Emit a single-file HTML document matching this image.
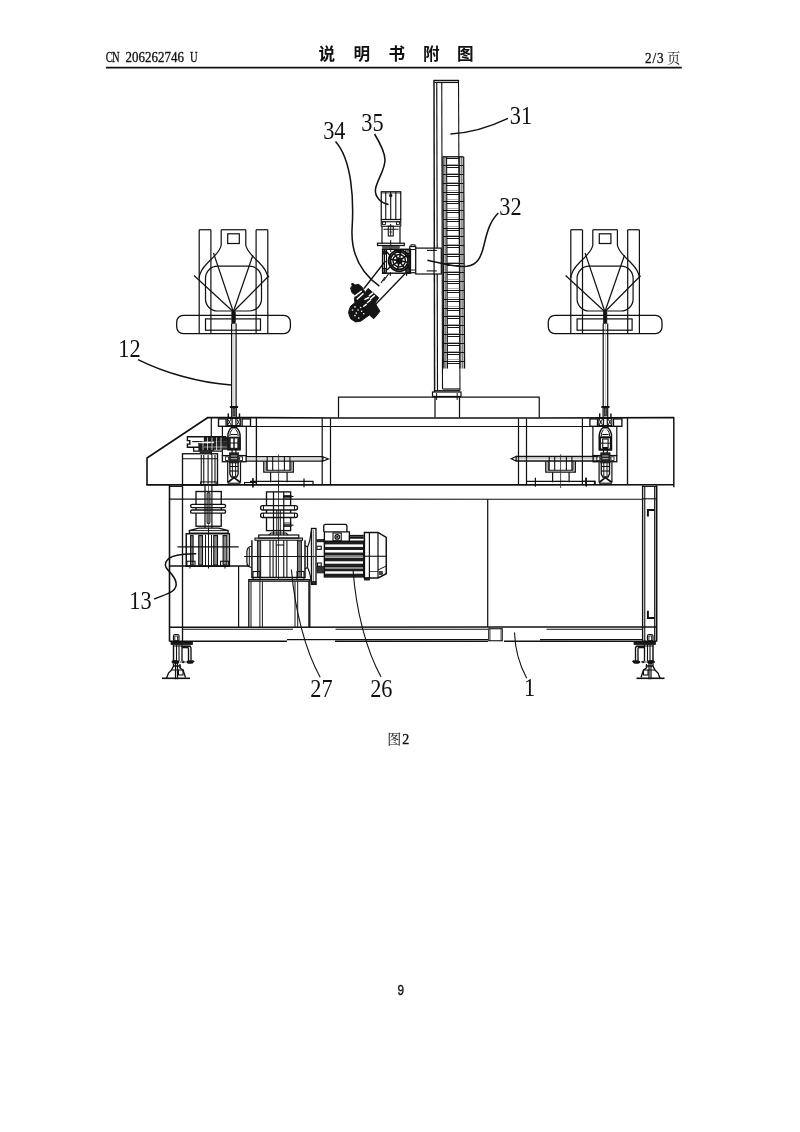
<!DOCTYPE html>
<html><head><meta charset="utf-8"><title>CN 206262746 U</title>
<style>
html,body{margin:0;padding:0;background:#fff;}
body{width:800px;height:1132px;overflow:hidden;font-family:"Liberation Serif",serif;}
svg{display:block;will-change:transform;}
</style></head><body>
<svg width="800" height="1132" viewBox="0 0 800 1132" fill="none" stroke-linecap="butt" stroke-linejoin="miter">
<text transform="translate(109.25 62) scale(0.8 1.16)" font-family="Liberation Serif" font-size="13.2" text-anchor="middle" fill="#111" stroke="#111" stroke-width="0.3">C</text>
<text transform="translate(115.75 62) scale(0.8 1.16)" font-family="Liberation Serif" font-size="13.2" text-anchor="middle" fill="#111" stroke="#111" stroke-width="0.3">N</text>
<text transform="translate(128.75 62) scale(0.98 1.16)" font-family="Liberation Serif" font-size="13.2" text-anchor="middle" fill="#111" stroke="#111" stroke-width="0.3">2</text>
<text transform="translate(135.25 62) scale(0.98 1.16)" font-family="Liberation Serif" font-size="13.2" text-anchor="middle" fill="#111" stroke="#111" stroke-width="0.3">0</text>
<text transform="translate(141.75 62) scale(0.98 1.16)" font-family="Liberation Serif" font-size="13.2" text-anchor="middle" fill="#111" stroke="#111" stroke-width="0.3">6</text>
<text transform="translate(148.25 62) scale(0.98 1.16)" font-family="Liberation Serif" font-size="13.2" text-anchor="middle" fill="#111" stroke="#111" stroke-width="0.3">2</text>
<text transform="translate(154.75 62) scale(0.98 1.16)" font-family="Liberation Serif" font-size="13.2" text-anchor="middle" fill="#111" stroke="#111" stroke-width="0.3">6</text>
<text transform="translate(161.25 62) scale(0.98 1.16)" font-family="Liberation Serif" font-size="13.2" text-anchor="middle" fill="#111" stroke="#111" stroke-width="0.3">2</text>
<text transform="translate(167.75 62) scale(0.98 1.16)" font-family="Liberation Serif" font-size="13.2" text-anchor="middle" fill="#111" stroke="#111" stroke-width="0.3">7</text>
<text transform="translate(174.25 62) scale(0.98 1.16)" font-family="Liberation Serif" font-size="13.2" text-anchor="middle" fill="#111" stroke="#111" stroke-width="0.3">4</text>
<text transform="translate(180.75 62) scale(0.98 1.16)" font-family="Liberation Serif" font-size="13.2" text-anchor="middle" fill="#111" stroke="#111" stroke-width="0.3">6</text>
<text transform="translate(193.75 62) scale(0.8 1.16)" font-family="Liberation Serif" font-size="13.2" text-anchor="middle" fill="#111" stroke="#111" stroke-width="0.3">U</text>
<path d="M106.00 67.60L681.80 67.60" stroke="#111" stroke-width="1.83"/>
<text x="318.5" y="59.7" font-family="'Liberation Sans','Noto Sans CJK SC',sans-serif" font-size="16.6" font-weight="bold" fill="#111" stroke="none">说</text>
<text x="353.5" y="59.7" font-family="'Liberation Sans','Noto Sans CJK SC',sans-serif" font-size="16.6" font-weight="bold" fill="#111" stroke="none">明</text>
<text x="388.5" y="59.7" font-family="'Liberation Sans','Noto Sans CJK SC',sans-serif" font-size="16.6" font-weight="bold" fill="#111" stroke="none">书</text>
<text x="422.9" y="59.7" font-family="'Liberation Sans','Noto Sans CJK SC',sans-serif" font-size="16.6" font-weight="bold" fill="#111" stroke="none">附</text>
<text x="457" y="59.7" font-family="'Liberation Sans','Noto Sans CJK SC',sans-serif" font-size="16.6" font-weight="bold" fill="#111" stroke="none">图</text>
<text transform="translate(648.2 62.7) scale(1.0 1.12)" font-family="Liberation Serif" font-size="13.2" text-anchor="middle" fill="#111" stroke="#111" stroke-width="0.3">2</text>
<text transform="translate(654.2 62.7) scale(1.0 1.12)" font-family="Liberation Serif" font-size="13.2" text-anchor="middle" fill="#111" stroke="#111" stroke-width="0.3">/</text>
<text transform="translate(660.2 62.7) scale(1.0 1.12)" font-family="Liberation Serif" font-size="13.2" text-anchor="middle" fill="#111" stroke="#111" stroke-width="0.3">3</text>
<text x="667" y="62.5" font-family="'Liberation Serif','Noto Serif CJK SC',serif" font-size="13.4" fill="#111" stroke="none">页</text>
<text x="387.2" y="744.1" font-family="'Liberation Serif','Noto Serif CJK SC',serif" font-size="14" fill="#111" stroke="none">图</text>
<text x="402.3" y="744.1" font-family="Liberation Serif" font-size="14" fill="#111" stroke="#111" stroke-width="0.3">2</text>
<text transform="translate(400.75 994.6) scale(0.87 1.06)" font-family="Liberation Sans" font-size="13.5" text-anchor="middle" fill="#111" stroke="#111" stroke-width="0.35">9</text>
<text transform="translate(520.9 124.1) scale(0.97 1.08)" font-family="Liberation Serif" font-size="23" text-anchor="middle" fill="#111">31</text>
<text transform="translate(372.5 131) scale(0.97 1.08)" font-family="Liberation Serif" font-size="23" text-anchor="middle" fill="#111">35</text>
<text transform="translate(334.3 139.4) scale(0.97 1.08)" font-family="Liberation Serif" font-size="23" text-anchor="middle" fill="#111">34</text>
<text transform="translate(510.5 215) scale(0.97 1.08)" font-family="Liberation Serif" font-size="23" text-anchor="middle" fill="#111">32</text>
<text transform="translate(129.5 356.6) scale(0.97 1.08)" font-family="Liberation Serif" font-size="23" text-anchor="middle" fill="#111">12</text>
<text transform="translate(140.4 608.75) scale(0.97 1.08)" font-family="Liberation Serif" font-size="23" text-anchor="middle" fill="#111">13</text>
<text transform="translate(321.4 697.4) scale(0.97 1.08)" font-family="Liberation Serif" font-size="23" text-anchor="middle" fill="#111">27</text>
<text transform="translate(381.3 697.4) scale(0.97 1.08)" font-family="Liberation Serif" font-size="23" text-anchor="middle" fill="#111">26</text>
<text transform="translate(529.5 696.25) scale(0.97 1.08)" font-family="Liberation Serif" font-size="23" text-anchor="middle" fill="#111">1</text>
<path d="M199.20 229.75L199.20 333.40" stroke="#111" stroke-width="1.22"/>
<path d="M210.90 229.75L210.90 333.40" stroke="#111" stroke-width="1.22"/>
<path d="M199.20 229.75L210.90 229.75" stroke="#111" stroke-width="1.22"/>
<path d="M221.20 229.75 V245 C 220.70 251, 213.50 257, 207.50 263 C 202.50 268, 199.50 272, 199.20 278" stroke="#111" stroke-width="1.22" fill="none" />
<path d="M267.80 229.75L267.80 333.40" stroke="#111" stroke-width="1.22"/>
<path d="M256.10 229.75L256.10 333.40" stroke="#111" stroke-width="1.22"/>
<path d="M267.80 229.75L256.10 229.75" stroke="#111" stroke-width="1.22"/>
<path d="M245.80 229.75 V245 C 246.30 251, 253.50 257, 259.50 263 C 264.50 268, 267.50 272, 267.80 278" stroke="#111" stroke-width="1.22" fill="none" />
<path d="M221.20 229.75L245.80 229.75" stroke="#111" stroke-width="1.22"/>
<rect x="227.70" y="233.80" width="11.60" height="9.70" rx="0" stroke="#111" stroke-width="1.22" fill="none"/>
<rect x="205.50" y="266.20" width="56.00" height="44.80" rx="12" stroke="#111" stroke-width="1.22" fill="none"/>
<path d="M233.30 311.80L213.50 253.00" stroke="#111" stroke-width="1.22"/>
<path d="M233.30 311.80L252.90 255.20" stroke="#111" stroke-width="1.22"/>
<path d="M233.30 311.80L194.00 275.50" stroke="#111" stroke-width="1.22"/>
<path d="M233.30 311.80L269.00 275.80" stroke="#111" stroke-width="1.22"/>
<rect x="176.70" y="315.30" width="113.70" height="18.30" rx="6.5" stroke="#111" stroke-width="1.28" fill="none"/>
<rect x="205.50" y="318.90" width="55.00" height="11.30" rx="0" stroke="#111" stroke-width="1.22" fill="none"/>
<rect x="231.80" y="311.80" width="3.50" height="11.70" rx="0" stroke="#111" stroke-width="0.61" fill="#111"/>
<path d="M231.60 323.50L231.60 406.00" stroke="#111" stroke-width="1.22"/>
<path d="M236.10 323.50L236.10 406.00" stroke="#111" stroke-width="1.22"/>
<path d="M233.90 323.50L233.90 406.00" stroke="#999" stroke-width="0.61"/>
<path d="M570.80 229.75L570.80 333.40" stroke="#111" stroke-width="1.22"/>
<path d="M582.50 229.75L582.50 333.40" stroke="#111" stroke-width="1.22"/>
<path d="M570.80 229.75L582.50 229.75" stroke="#111" stroke-width="1.22"/>
<path d="M592.80 229.75 V245 C 592.30 251, 585.10 257, 579.10 263 C 574.10 268, 571.10 272, 570.80 278" stroke="#111" stroke-width="1.22" fill="none" />
<path d="M639.40 229.75L639.40 333.40" stroke="#111" stroke-width="1.22"/>
<path d="M627.70 229.75L627.70 333.40" stroke="#111" stroke-width="1.22"/>
<path d="M639.40 229.75L627.70 229.75" stroke="#111" stroke-width="1.22"/>
<path d="M617.40 229.75 V245 C 617.90 251, 625.10 257, 631.10 263 C 636.10 268, 639.10 272, 639.40 278" stroke="#111" stroke-width="1.22" fill="none" />
<path d="M592.80 229.75L617.40 229.75" stroke="#111" stroke-width="1.22"/>
<rect x="599.30" y="233.80" width="11.60" height="9.70" rx="0" stroke="#111" stroke-width="1.22" fill="none"/>
<rect x="577.10" y="266.20" width="56.00" height="44.80" rx="12" stroke="#111" stroke-width="1.22" fill="none"/>
<path d="M604.90 311.80L585.10 253.00" stroke="#111" stroke-width="1.22"/>
<path d="M604.90 311.80L624.50 255.20" stroke="#111" stroke-width="1.22"/>
<path d="M604.90 311.80L565.60 275.50" stroke="#111" stroke-width="1.22"/>
<path d="M604.90 311.80L640.60 275.80" stroke="#111" stroke-width="1.22"/>
<rect x="548.30" y="315.30" width="113.70" height="18.30" rx="6.5" stroke="#111" stroke-width="1.28" fill="none"/>
<rect x="577.10" y="318.90" width="55.00" height="11.30" rx="0" stroke="#111" stroke-width="1.22" fill="none"/>
<rect x="603.40" y="311.80" width="3.50" height="11.70" rx="0" stroke="#111" stroke-width="0.61" fill="#111"/>
<path d="M603.20 323.50L603.20 406.00" stroke="#111" stroke-width="1.22"/>
<path d="M607.70 323.50L607.70 406.00" stroke="#111" stroke-width="1.22"/>
<path d="M605.50 323.50L605.50 406.00" stroke="#999" stroke-width="0.61"/>
<path d="M434.00 80.50L434.60 392.00" stroke="#111" stroke-width="1.46"/>
<path d="M436.75 82.50L437.50 390.50" stroke="#111" stroke-width="1.16"/>
<path d="M441.75 82.50L442.50 389.00" stroke="#111" stroke-width="1.1"/>
<path d="M458.50 80.50L460.00 390.50" stroke="#111" stroke-width="1.1"/>
<path d="M433.40 80.50L459.10 80.50" stroke="#111" stroke-width="1.46"/>
<path d="M434.50 82.50L458.50 82.50" stroke="#111" stroke-width="1.1"/>
<path d="M442.92 156.8 L446.62 156.8 L447.51 368.5 L443.81 368.5Z" fill="#c8c8c8"/>
<path d="M459.22 156.8 L463.62 156.8 L464.51 368.5 L460.11 368.5Z" fill="#c8c8c8"/>
<path d="M442.90 156.80L443.79 368.50" stroke="#111" stroke-width="1.22"/>
<path d="M444.90 156.80L445.79 368.50" stroke="#555" stroke-width="0.73"/>
<path d="M446.60 156.80L447.49 368.50" stroke="#111" stroke-width="1.04"/>
<path d="M459.20 156.80L460.09 368.50" stroke="#111" stroke-width="1.1"/>
<path d="M461.60 156.80L462.49 368.50" stroke="#555" stroke-width="0.73"/>
<path d="M463.70 156.80L464.59 368.50" stroke="#111" stroke-width="1.22"/>
<path d="M442.60 156.80L463.40 156.80" stroke="#111" stroke-width="1.34"/>
<path d="M446.52 158.50L459.22 158.50" stroke="#111" stroke-width="0.98"/>
<path d="M446.52 164.50L459.22 164.50" stroke="#666" stroke-width="0.55"/>
<path d="M442.96 165.50L463.66 165.50" stroke="#111" stroke-width="0.98"/>
<path d="M446.56 167.50L459.26 167.50" stroke="#111" stroke-width="0.98"/>
<path d="M446.56 173.50L459.26 173.50" stroke="#666" stroke-width="0.55"/>
<path d="M443.00 174.50L463.70 174.50" stroke="#111" stroke-width="0.98"/>
<path d="M446.60 176.50L459.30 176.50" stroke="#111" stroke-width="0.98"/>
<path d="M446.60 182.50L459.30 182.50" stroke="#666" stroke-width="0.55"/>
<path d="M443.03 183.50L463.73 183.50" stroke="#111" stroke-width="0.98"/>
<path d="M446.63 185.50L459.33 185.50" stroke="#111" stroke-width="0.98"/>
<path d="M446.63 190.50L459.33 190.50" stroke="#666" stroke-width="0.55"/>
<path d="M443.07 192.50L463.77 192.50" stroke="#111" stroke-width="0.98"/>
<path d="M446.67 194.50L459.37 194.50" stroke="#111" stroke-width="0.98"/>
<path d="M446.67 199.50L459.37 199.50" stroke="#666" stroke-width="0.55"/>
<path d="M443.11 201.50L463.81 201.50" stroke="#111" stroke-width="0.98"/>
<path d="M446.71 203.50L459.41 203.50" stroke="#111" stroke-width="0.98"/>
<path d="M446.71 208.50L459.41 208.50" stroke="#666" stroke-width="0.55"/>
<path d="M443.15 210.50L463.85 210.50" stroke="#111" stroke-width="0.98"/>
<path d="M446.75 212.50L459.45 212.50" stroke="#111" stroke-width="0.98"/>
<path d="M446.75 217.50L459.45 217.50" stroke="#666" stroke-width="0.55"/>
<path d="M443.18 219.50L463.88 219.50" stroke="#111" stroke-width="0.98"/>
<path d="M446.78 221.50L459.48 221.50" stroke="#111" stroke-width="0.98"/>
<path d="M446.78 226.50L459.48 226.50" stroke="#666" stroke-width="0.55"/>
<path d="M443.22 228.50L463.92 228.50" stroke="#111" stroke-width="0.98"/>
<path d="M446.82 230.50L459.52 230.50" stroke="#111" stroke-width="0.98"/>
<path d="M446.82 235.50L459.52 235.50" stroke="#666" stroke-width="0.55"/>
<path d="M443.26 236.50L463.96 236.50" stroke="#111" stroke-width="0.98"/>
<path d="M446.86 238.50L459.56 238.50" stroke="#111" stroke-width="0.98"/>
<path d="M446.86 244.50L459.56 244.50" stroke="#666" stroke-width="0.55"/>
<path d="M443.30 245.50L464.00 245.50" stroke="#111" stroke-width="0.98"/>
<path d="M446.90 247.50L459.60 247.50" stroke="#111" stroke-width="0.98"/>
<path d="M446.90 253.50L459.60 253.50" stroke="#666" stroke-width="0.55"/>
<path d="M443.33 254.50L464.03 254.50" stroke="#111" stroke-width="0.98"/>
<path d="M446.93 256.50L459.63 256.50" stroke="#111" stroke-width="0.98"/>
<path d="M446.93 262.50L459.63 262.50" stroke="#666" stroke-width="0.55"/>
<path d="M443.37 263.50L464.07 263.50" stroke="#111" stroke-width="0.98"/>
<path d="M446.97 265.50L459.67 265.50" stroke="#111" stroke-width="0.98"/>
<path d="M446.97 271.50L459.67 271.50" stroke="#666" stroke-width="0.55"/>
<path d="M443.41 272.50L464.11 272.50" stroke="#111" stroke-width="0.98"/>
<path d="M447.01 274.50L459.71 274.50" stroke="#111" stroke-width="0.98"/>
<path d="M447.01 279.50L459.71 279.50" stroke="#666" stroke-width="0.55"/>
<path d="M443.45 281.50L464.15 281.50" stroke="#111" stroke-width="0.98"/>
<path d="M447.05 283.50L459.75 283.50" stroke="#111" stroke-width="0.98"/>
<path d="M447.05 288.50L459.75 288.50" stroke="#666" stroke-width="0.55"/>
<path d="M443.48 290.50L464.18 290.50" stroke="#111" stroke-width="0.98"/>
<path d="M447.08 292.50L459.78 292.50" stroke="#111" stroke-width="0.98"/>
<path d="M447.08 297.50L459.78 297.50" stroke="#666" stroke-width="0.55"/>
<path d="M443.52 299.50L464.22 299.50" stroke="#111" stroke-width="0.98"/>
<path d="M447.12 301.50L459.82 301.50" stroke="#111" stroke-width="0.98"/>
<path d="M447.12 306.50L459.82 306.50" stroke="#666" stroke-width="0.55"/>
<path d="M443.56 308.50L464.26 308.50" stroke="#111" stroke-width="0.98"/>
<path d="M447.16 310.50L459.86 310.50" stroke="#111" stroke-width="0.98"/>
<path d="M447.16 315.50L459.86 315.50" stroke="#666" stroke-width="0.55"/>
<path d="M443.60 316.50L464.30 316.50" stroke="#111" stroke-width="0.98"/>
<path d="M447.20 318.50L459.90 318.50" stroke="#111" stroke-width="0.98"/>
<path d="M447.20 324.50L459.90 324.50" stroke="#666" stroke-width="0.55"/>
<path d="M443.63 325.50L464.33 325.50" stroke="#111" stroke-width="0.98"/>
<path d="M447.23 327.50L459.93 327.50" stroke="#111" stroke-width="0.98"/>
<path d="M447.23 333.50L459.93 333.50" stroke="#666" stroke-width="0.55"/>
<path d="M443.67 334.50L464.37 334.50" stroke="#111" stroke-width="0.98"/>
<path d="M447.27 336.50L459.97 336.50" stroke="#111" stroke-width="0.98"/>
<path d="M447.27 342.50L459.97 342.50" stroke="#666" stroke-width="0.55"/>
<path d="M443.71 343.50L464.41 343.50" stroke="#111" stroke-width="0.98"/>
<path d="M447.31 345.50L460.01 345.50" stroke="#111" stroke-width="0.98"/>
<path d="M447.31 351.50L460.01 351.50" stroke="#666" stroke-width="0.55"/>
<path d="M443.74 352.50L464.44 352.50" stroke="#111" stroke-width="0.98"/>
<path d="M447.34 354.50L460.04 354.50" stroke="#111" stroke-width="0.98"/>
<path d="M447.34 359.50L460.04 359.50" stroke="#666" stroke-width="0.55"/>
<path d="M443.78 361.50L464.48 361.50" stroke="#111" stroke-width="0.98"/>
<path d="M447.38 363.50L460.08 363.50" stroke="#111" stroke-width="0.98"/>
<path d="M442.70 389.00L460.00 389.00" stroke="#111" stroke-width="1.22"/>
<path d="M434.60 390.70L460.00 390.70" stroke="#111" stroke-width="1.22"/>
<rect x="432.50" y="392.00" width="28.50" height="4.50" rx="0" stroke="#111" stroke-width="1.22" fill="none"/>
<path d="M435.00 396.50L435.00 417.50" stroke="#111" stroke-width="1.22"/>
<path d="M459.50 396.50L459.50 417.50" stroke="#111" stroke-width="1.22"/>
<path d="M436.60 393.00L436.60 400.00" stroke="#111" stroke-width="0.98"/>
<path d="M457.20 393.00L457.20 400.00" stroke="#111" stroke-width="0.98"/>
<path d="M338.5 417.5 V397.2 H539.25 V417.5" stroke="#111" stroke-width="1.22" fill="none" />
<rect x="381.25" y="191.75" width="19.50" height="27.75" rx="0" stroke="#111" stroke-width="1.22" fill="none"/>
<path d="M381.25 193.00L400.75 193.00" stroke="#111" stroke-width="0.73"/>
<path d="M385.75 191.75L385.75 219.50" stroke="#111" stroke-width="1.1"/>
<path d="M390.70 191.75L390.70 219.50" stroke="#111" stroke-width="1.1"/>
<path d="M395.80 191.75L395.80 219.50" stroke="#111" stroke-width="1.1"/>
<circle cx="390.70" cy="195.60" r="1.40" stroke="#111" stroke-width="0.61" fill="#111"/>
<path d="M381.25 221.75L400.75 221.75" stroke="#111" stroke-width="1.1"/>
<path d="M381.25 219.50L381.25 226.25" stroke="#111" stroke-width="1.1"/>
<path d="M400.75 219.50L400.75 226.25" stroke="#111" stroke-width="1.1"/>
<path d="M381.25 226.25L400.75 226.25" stroke="#111" stroke-width="1.1"/>
<rect x="382.50" y="221.75" width="3.00" height="2.75" rx="0" stroke="#111" stroke-width="0.85" fill="none"/>
<rect x="396.50" y="221.75" width="3.00" height="2.75" rx="0" stroke="#111" stroke-width="0.85" fill="none"/>
<path d="M382.00 226.25L382.00 243.50" stroke="#111" stroke-width="1.22"/>
<path d="M400.00 226.25L400.00 243.50" stroke="#111" stroke-width="1.22"/>
<path d="M383.50 229.25L398.50 229.25" stroke="#111" stroke-width="0.98"/>
<rect x="388.30" y="226.25" width="4.95" height="9.75" rx="0" stroke="#111" stroke-width="1.1" fill="none"/>
<path d="M390.70 224.00L390.70 236.00" stroke="#111" stroke-width="0.98"/>
<path d="M389.30 232.00L392.20 232.00" stroke="#111" stroke-width="0.73"/>
<path d="M390.70 240.00L390.70 252.00" stroke="#111" stroke-width="0.98"/>
<rect x="377.50" y="243.20" width="26.80" height="2.30" rx="0" stroke="#111" stroke-width="1.22" fill="none"/>
<rect x="382.50" y="246.20" width="17.00" height="2.10" rx="0" stroke="#111" stroke-width="0.37" fill="#555"/>
<rect x="382.60" y="249.30" width="27.80" height="23.90" rx="0" stroke="#111" stroke-width="1.46" fill="none"/>
<circle cx="399.20" cy="260.70" r="10.60" stroke="#111" stroke-width="1.83" fill="none"/>
<circle cx="399.20" cy="260.70" r="8.80" stroke="#111" stroke-width="1.83" fill="none"/>
<circle cx="399.20" cy="260.70" r="6.20" stroke="#111" stroke-width="1.46" fill="none"/>
<circle cx="399.20" cy="260.70" r="3.30" stroke="#111" stroke-width="0.61" fill="#111"/>
<path d="M402.45 261.27L407.67 262.19" stroke="#111" stroke-width="1.59"/>
<path d="M401.09 263.40L404.13 267.74" stroke="#111" stroke-width="1.59"/>
<path d="M398.63 263.95L397.71 269.17" stroke="#111" stroke-width="1.59"/>
<path d="M396.50 262.59L392.16 265.63" stroke="#111" stroke-width="1.59"/>
<path d="M395.95 260.13L390.73 259.21" stroke="#111" stroke-width="1.59"/>
<path d="M397.31 258.00L394.27 253.66" stroke="#111" stroke-width="1.59"/>
<path d="M399.77 257.45L400.69 252.23" stroke="#111" stroke-width="1.59"/>
<path d="M401.90 258.81L406.24 255.77" stroke="#111" stroke-width="1.59"/>
<path d="M393.5 249.5 L400 253.2 L403.5 249.5 Z" stroke="#111" stroke-width="0.98" fill="#111" />
<path d="M384.50 250.00L384.50 272.60" stroke="#111" stroke-width="1.1"/>
<path d="M386.50 250.00L386.50 272.60" stroke="#111" stroke-width="1.1"/>
<path d="M408.00 250.00L408.00 272.60" stroke="#111" stroke-width="1.1"/>
<rect x="382.80" y="251.00" width="2.80" height="3.00" rx="0" stroke="#111" stroke-width="0.98" fill="#222"/>
<rect x="382.80" y="268.50" width="3.20" height="4.30" rx="0" stroke="#111" stroke-width="1.1" fill="none"/>
<rect x="405.80" y="268.30" width="4.20" height="4.50" rx="0" stroke="#111" stroke-width="1.1" fill="#333"/>
<rect x="405.80" y="249.80" width="4.20" height="3.70" rx="0" stroke="#111" stroke-width="1.1" fill="none"/>
<path d="M387 252 L391 257 M387 270 L391.5 265.5 M410 255 L407 258 M409.5 268 L406 264.5" stroke="#111" stroke-width="1.34" fill="none" />
<path d="M390.30 272.50L390.30 275.80" stroke="#111" stroke-width="1.22"/>
<path d="M406.60 272.50L406.60 275.80" stroke="#111" stroke-width="1.22"/>
<rect x="409.75" y="246.50" width="6.00" height="26.25" rx="0" stroke="#111" stroke-width="1.22" fill="none"/>
<path d="M409.75 249.50L415.75 249.50" stroke="#111" stroke-width="0.98"/>
<path d="M409.75 270.00L415.75 270.00" stroke="#111" stroke-width="0.98"/>
<rect x="411.00" y="244.80" width="4.00" height="1.70" rx="0" stroke="#111" stroke-width="0.98" fill="none"/>
<rect x="415.75" y="248.10" width="25.55" height="25.90" rx="0" stroke="#111" stroke-width="1.22" fill="#fff"/>
<path d="M434.00 248.10L434.10 274.00" stroke="#111" stroke-width="1.22"/>
<path d="M427.00 250.40L436.80 250.40" stroke="#111" stroke-width="1.1"/>
<path d="M426.70 270.90L436.80 270.90" stroke="#111" stroke-width="1.1"/>
<path d="M385.50 261.00L363.75 288.75" stroke="#111" stroke-width="1.34"/>
<path d="M405.00 273.75L375.00 305.00" stroke="#111" stroke-width="1.34"/>
<path d="M388.75 273.50L383.50 281.00" stroke="#111" stroke-width="1.1"/>
<path d="M385.00 277.00L381.00 283.00" stroke="#111" stroke-width="1.1"/>
<path d="M351.60 283.75 L353.40 283.40 L354.70 285.00 L358.75 284.40 L361.90 286.90 L363.40 289.40 L365.20 292.60 L368.10 288.40 L378.75 297.80 L375.00 303.10 L380.00 311.25 L373.75 318.75 L369.40 315.00 L360.60 321.25 L355.60 321.90 L350.60 318.75 L348.75 312.50 L350.60 306.25 L355.00 302.50 L354.40 298.75 L355.60 295.60 L351.90 292.50 L350.60 288.10 L352.20 285.90Z" stroke="#111" stroke-width="0.98" fill="#151515" stroke-linejoin="round"/>
<circle cx="357.00" cy="312.30" r="8.30" stroke="#111" stroke-width="0.61" fill="#151515"/>
<path d="M355.6 295.6L361.25 291.25" stroke="#fff" stroke-width="1.5" stroke-linecap="round"/>
<path d="M357.2 299L363.1 293.75" stroke="#fff" stroke-width="1.5" stroke-linecap="round"/>
<path d="M369.4 295.6L372.5 293.1" stroke="#fff" stroke-width="1.5" stroke-linecap="round"/>
<path d="M365 299.4L368.75 297.5" stroke="#fff" stroke-width="1.5" stroke-linecap="round"/>
<path d="M370.6 298.75L374.4 295.6" stroke="#fff" stroke-width="1.5" stroke-linecap="round"/>
<path d="M367.5 302.5L370.6 300" stroke="#fff" stroke-width="1.5" stroke-linecap="round"/>
<path d="M363.75 306.25L366.25 304.4" stroke="#fff" stroke-width="1.5" stroke-linecap="round"/>
<circle cx="355" cy="306.9" r="0.8" fill="#fff"/>
<circle cx="358.1" cy="310" r="0.8" fill="#fff"/>
<circle cx="360.6" cy="307.5" r="0.8" fill="#fff"/>
<circle cx="356.25" cy="313.1" r="0.8" fill="#fff"/>
<circle cx="352.5" cy="310" r="0.8" fill="#fff"/>
<circle cx="355" cy="315.6" r="0.8" fill="#fff"/>
<circle cx="358.75" cy="318.1" r="0.8" fill="#fff"/>
<circle cx="363.75" cy="313.75" r="0.8" fill="#fff"/>
<circle cx="361.6" cy="311.25" r="0.8" fill="#fff"/>
<path d="M207.2 417.55 L340 418 L540 418 L673.8 417.7" stroke="#111" stroke-width="1.71" fill="none" />
<path d="M207.9 417.5 L147 458.0 V485" stroke="#111" stroke-width="1.59" fill="none" />
<path d="M146.30 484.85L673.80 484.75" stroke="#111" stroke-width="1.71"/>
<path d="M673.80 417.00L673.80 487.30" stroke="#111" stroke-width="1.46"/>
<path d="M218.60 426.50L621.30 426.50" stroke="#111" stroke-width="1.22"/>
<path d="M211.30 417.70L211.30 455.00" stroke="#111" stroke-width="1.22"/>
<path d="M256.40 417.70L256.40 484.60" stroke="#111" stroke-width="1.34"/>
<path d="M322.20 418.50L322.20 484.40" stroke="#111" stroke-width="1.22"/>
<path d="M330.50 418.50L330.50 484.40" stroke="#111" stroke-width="1.22"/>
<path d="M518.50 418.50L518.50 484.40" stroke="#111" stroke-width="1.22"/>
<path d="M526.50 418.50L526.50 484.40" stroke="#111" stroke-width="1.22"/>
<path d="M582.40 418.50L582.40 484.30" stroke="#111" stroke-width="1.22"/>
<path d="M627.50 417.70L627.50 484.30" stroke="#111" stroke-width="1.34"/>
<path d="M246.00 456.70L322.90 456.70" stroke="#111" stroke-width="1.34"/>
<path d="M246.00 461.20L322.90 461.20" stroke="#111" stroke-width="1.34"/>
<path d="M246.00 459.00L322.90 459.00" stroke="#888" stroke-width="0.61"/>
<path d="M322.9 456.7 L328.4 458.9 L322.9 461.2 Z" stroke="#111" stroke-width="1.22" fill="none" />
<path d="M597.90 456.50L516.10 456.50" stroke="#111" stroke-width="1.34"/>
<path d="M597.90 461.00L516.10 461.00" stroke="#111" stroke-width="1.34"/>
<path d="M597.90 458.80L516.10 458.80" stroke="#888" stroke-width="0.61"/>
<path d="M516.1 456.5 L511.3 458.7 L516.1 461.0 Z" stroke="#111" stroke-width="1.22" fill="none" />
<path d="M263.8 461.2 V472.2 H293.3 V461.2" stroke="#111" stroke-width="1.34" fill="none" />
<path d="M266.20000000000005 461.2 V470.2 H291.0 V461.2" stroke="#111" stroke-width="1.1" fill="none" />
<path d="M267.20 456.70L267.20 470.20" stroke="#111" stroke-width="1.1"/>
<path d="M272.70 456.70L272.70 470.20" stroke="#111" stroke-width="1.1"/>
<path d="M284.40 456.70L284.40 470.20" stroke="#111" stroke-width="1.1"/>
<path d="M289.90 456.70L289.90 470.20" stroke="#111" stroke-width="1.1"/>
<path d="M278.60 454.30L278.60 488.00" stroke="#333" stroke-width="0.85"/>
<path d="M270.60 472.20L270.60 482.30" stroke="#111" stroke-width="1.22"/>
<path d="M287.10 472.20L287.10 482.30" stroke="#111" stroke-width="1.22"/>
<path d="M273.60 481.40L283.60 481.40" stroke="#111" stroke-width="0.98"/>
<path d="M545.8000000000001 461.2 V472.2 H575.3000000000001 V461.2" stroke="#111" stroke-width="1.34" fill="none" />
<path d="M548.2 461.2 V470.2 H573.0 V461.2" stroke="#111" stroke-width="1.1" fill="none" />
<path d="M549.20 456.70L549.20 470.20" stroke="#111" stroke-width="1.1"/>
<path d="M554.70 456.70L554.70 470.20" stroke="#111" stroke-width="1.1"/>
<path d="M566.40 456.70L566.40 470.20" stroke="#111" stroke-width="1.1"/>
<path d="M571.90 456.70L571.90 470.20" stroke="#111" stroke-width="1.1"/>
<path d="M560.60 454.30L560.60 488.00" stroke="#333" stroke-width="0.85"/>
<path d="M552.60 472.20L552.60 482.30" stroke="#111" stroke-width="1.22"/>
<path d="M569.10 472.20L569.10 482.30" stroke="#111" stroke-width="1.22"/>
<path d="M555.60 481.40L565.60 481.40" stroke="#111" stroke-width="0.98"/>
<path d="M250 481.4 H313 V484.4" stroke="#111" stroke-width="1.22" fill="none" />
<path d="M253.00 478.40L253.00 487.30" stroke="#111" stroke-width="1.22"/>
<path d="M304.00 478.40L304.00 487.30" stroke="#111" stroke-width="1.22"/>
<path d="M526.5 481.4 H595.2 V484.3" stroke="#111" stroke-width="1.22" fill="none" />
<path d="M535.40 477.70L535.40 486.70" stroke="#111" stroke-width="1.22"/>
<path d="M586.30 477.70L586.30 486.70" stroke="#111" stroke-width="1.22"/>
<path d="M229.90 407.00L238.10 407.00" stroke="#111" stroke-width="1.95"/>
<path d="M231.70 407.80L231.70 418.00" stroke="#111" stroke-width="1.22"/>
<path d="M236.30 407.80L236.30 418.00" stroke="#111" stroke-width="1.22"/>
<rect x="232.90" y="408.50" width="2.20" height="7.50" rx="0" stroke="#111" stroke-width="0.73" fill="#666"/>
<path d="M228.30 413.40L228.30 417.50" stroke="#111" stroke-width="1.46"/>
<path d="M239.50 413.40L239.50 417.50" stroke="#111" stroke-width="1.46"/>
<rect x="218.50" y="418.90" width="7.60" height="7.40" rx="0" stroke="#111" stroke-width="1.34" fill="none"/>
<rect x="242.10" y="418.90" width="8.40" height="7.40" rx="0" stroke="#111" stroke-width="1.34" fill="none"/>
<rect x="227.40" y="418.50" width="13.00" height="7.00" rx="0" stroke="#111" stroke-width="0.98" fill="none"/>
<path d="M227.4 418.5 L231.4 425.5 M231.4 418.5 L227.4 425.5 M240.4 418.5 L236.4 425.5 M236.4 418.5 L240.4 425.5" stroke="#111" stroke-width="0.98" fill="none" />
<path d="M232.10 418.00L232.10 427.70" stroke="#111" stroke-width="1.22"/>
<path d="M235.90 418.00L235.90 427.70" stroke="#111" stroke-width="1.22"/>
<path d="M222.40 426.30L222.40 455.60" stroke="#111" stroke-width="1.22"/>
<path d="M246.30 426.30L246.30 456.50" stroke="#111" stroke-width="1.22"/>
<path d="M231.4 427.7 C228.9 430,227.9 432,227.9 436 V449.8 H240.1 V436 C240.1 432,238.9 430,236.6 427.7 Z" stroke="#111" stroke-width="1.46" fill="none" />
<path d="M232.4 429.5 C230.4 431.5,229.9 433,229.9 436 M235.6 429.5 C237.6 431.5,238.1 433,238.1 436" stroke="#111" stroke-width="0.98" fill="none" />
<rect x="227.90" y="437.00" width="12.20" height="12.80" rx="0" stroke="#111" stroke-width="0.61" fill="#222"/>
<rect x="230.50" y="438.20" width="2.90" height="9.80" rx="0" stroke="#111" stroke-width="0.37" fill="#fff"/>
<rect x="234.60" y="438.20" width="2.90" height="9.80" rx="0" stroke="#111" stroke-width="0.37" fill="#fff"/>
<path d="M229.90 443.00L238.10 443.00" stroke="#111" stroke-width="0.98"/>
<path d="M230.90 434.50L237.10 434.50" stroke="#111" stroke-width="0.98"/>
<path d="M232.10 449.80L232.10 455.60" stroke="#111" stroke-width="1.22"/>
<path d="M235.90 449.80L235.90 455.60" stroke="#111" stroke-width="1.22"/>
<rect x="222.40" y="455.60" width="23.70" height="6.15" rx="0" stroke="#111" stroke-width="1.34" fill="none"/>
<rect x="229.30" y="452.80" width="9.40" height="10.20" rx="0" stroke="#111" stroke-width="0.61" fill="#222"/>
<path d="M230.90 456.00L237.10 456.00" stroke="#fff" stroke-width="0.7"/>
<path d="M230.90 458.70L237.10 458.70" stroke="#fff" stroke-width="0.7"/>
<rect x="225.40" y="456.80" width="3.00" height="3.70" rx="0" stroke="#111" stroke-width="0.85" fill="none"/>
<rect x="239.60" y="456.80" width="3.00" height="3.70" rx="0" stroke="#111" stroke-width="0.85" fill="none"/>
<path d="M229.9 463 V474 L231.4 477 H236.6 L238.1 474 V463" stroke="#111" stroke-width="1.34" fill="none" />
<path d="M232.40 463.00L232.40 476.50" stroke="#111" stroke-width="0.98"/>
<path d="M235.60 463.00L235.60 476.50" stroke="#111" stroke-width="0.98"/>
<path d="M229.90 466.50L238.10 466.50" stroke="#111" stroke-width="1.1"/>
<path d="M229.90 471.00L238.10 471.00" stroke="#111" stroke-width="1.1"/>
<path d="M227.70 462.20L227.70 482.50" stroke="#111" stroke-width="1.22"/>
<path d="M240.50 462.20L240.50 482.50" stroke="#111" stroke-width="1.22"/>
<path d="M227.70000000000002 482.5 L234.0 477.5 L240.5 482.5" stroke="#111" stroke-width="1.71" fill="none" />
<path d="M227.70 483.20L240.50 483.20" stroke="#111" stroke-width="1.1"/>
<path d="M601.30 407.00L609.50 407.00" stroke="#111" stroke-width="1.95"/>
<path d="M603.10 407.80L603.10 418.00" stroke="#111" stroke-width="1.22"/>
<path d="M607.70 407.80L607.70 418.00" stroke="#111" stroke-width="1.22"/>
<rect x="604.30" y="408.50" width="2.20" height="7.50" rx="0" stroke="#111" stroke-width="0.73" fill="#666"/>
<path d="M599.70 413.40L599.70 417.50" stroke="#111" stroke-width="1.46"/>
<path d="M610.90 413.40L610.90 417.50" stroke="#111" stroke-width="1.46"/>
<rect x="589.90" y="418.90" width="7.60" height="7.40" rx="0" stroke="#111" stroke-width="1.34" fill="none"/>
<rect x="613.50" y="418.90" width="8.40" height="7.40" rx="0" stroke="#111" stroke-width="1.34" fill="none"/>
<rect x="598.80" y="418.50" width="13.00" height="7.00" rx="0" stroke="#111" stroke-width="0.98" fill="none"/>
<path d="M598.8 418.5 L602.8 425.5 M602.8 418.5 L598.8 425.5 M611.8 418.5 L607.8 425.5 M607.8 418.5 L611.8 425.5" stroke="#111" stroke-width="0.98" fill="none" />
<path d="M603.50 418.00L603.50 427.70" stroke="#111" stroke-width="1.22"/>
<path d="M607.30 418.00L607.30 427.70" stroke="#111" stroke-width="1.22"/>
<path d="M616.80 426.30L616.80 455.60" stroke="#111" stroke-width="1.22"/>
<path d="M592.90 426.30L592.90 456.50" stroke="#111" stroke-width="1.22"/>
<path d="M602.8 427.7 C600.3 430,599.3 432,599.3 436 V449.8 H611.5 V436 C611.5 432,610.3 430,608.0 427.7 Z" stroke="#111" stroke-width="1.46" fill="none" />
<path d="M603.8 429.5 C601.8 431.5,601.3 433,601.3 436 M607.0 429.5 C609.0 431.5,609.5 433,609.5 436" stroke="#111" stroke-width="0.98" fill="none" />
<rect x="599.90" y="437.30" width="11.00" height="12.20" rx="0" stroke="#111" stroke-width="2.07" fill="none"/>
<rect x="602.70" y="439.00" width="5.40" height="8.50" rx="0" stroke="#111" stroke-width="1.1" fill="none"/>
<path d="M600.30 443.20L610.30 443.20" stroke="#111" stroke-width="0.98"/>
<path d="M602.30 434.50L608.50 434.50" stroke="#111" stroke-width="0.98"/>
<path d="M602.70 448.60L608.10 448.60" stroke="#111" stroke-width="1.22"/>
<path d="M603.50 449.80L603.50 455.60" stroke="#111" stroke-width="1.22"/>
<path d="M607.30 449.80L607.30 455.60" stroke="#111" stroke-width="1.22"/>
<rect x="593.10" y="455.60" width="23.70" height="6.15" rx="0" stroke="#111" stroke-width="1.34" fill="none"/>
<rect x="600.70" y="452.80" width="9.40" height="10.20" rx="0" stroke="#111" stroke-width="0.61" fill="#222"/>
<path d="M602.30 456.00L608.50 456.00" stroke="#fff" stroke-width="0.7"/>
<path d="M602.30 458.70L608.50 458.70" stroke="#fff" stroke-width="0.7"/>
<rect x="596.80" y="456.80" width="3.00" height="3.70" rx="0" stroke="#111" stroke-width="0.85" fill="none"/>
<rect x="611.00" y="456.80" width="3.00" height="3.70" rx="0" stroke="#111" stroke-width="0.85" fill="none"/>
<path d="M601.3 463 V474 L602.8 477 H608.0 L609.5 474 V463" stroke="#111" stroke-width="1.34" fill="none" />
<path d="M603.80 463.00L603.80 476.50" stroke="#111" stroke-width="0.98"/>
<path d="M607.00 463.00L607.00 476.50" stroke="#111" stroke-width="0.98"/>
<path d="M601.30 466.50L609.50 466.50" stroke="#111" stroke-width="1.1"/>
<path d="M601.30 471.00L609.50 471.00" stroke="#111" stroke-width="1.1"/>
<path d="M599.10 462.20L599.10 482.50" stroke="#111" stroke-width="1.22"/>
<path d="M611.90 462.20L611.90 482.50" stroke="#111" stroke-width="1.22"/>
<path d="M599.0999999999999 482.5 L605.4 477.5 L611.9 482.5" stroke="#111" stroke-width="1.71" fill="none" />
<path d="M599.10 483.20L611.90 483.20" stroke="#111" stroke-width="1.1"/>
<rect x="244.60" y="482.50" width="11.80" height="2.10" rx="0" stroke="#111" stroke-width="1.1" fill="none"/>
<path d="M252.90 478.00L252.90 487.40" stroke="#111" stroke-width="1.22"/>
<path d="M582.4 481.4 H594.4 V484.3" stroke="#111" stroke-width="1.1" fill="none" />
<path d="M585.80 477.70L585.80 486.00" stroke="#111" stroke-width="1.22"/>
<path d="M226 436.75 H187.4 V440.6 H189.8 V444.1 H187.4 V447.25 H199" stroke="#111" stroke-width="1.4" fill="none" />
<path d="M192.25 441.60L204.50 441.60" stroke="#111" stroke-width="1.1"/>
<path d="M193.6 447.25 V451.2 H222.5" stroke="#111" stroke-width="1.22" fill="none" />
<rect x="204.00" y="437.00" width="23.50" height="4.50" rx="0" stroke="#111" stroke-width="0.49" fill="#1c1c1c"/>
<rect x="198.75" y="443.50" width="15.25" height="7.00" rx="0" stroke="#111" stroke-width="0.49" fill="#1c1c1c"/>
<rect x="214.00" y="442.00" width="13.50" height="7.50" rx="0" stroke="#111" stroke-width="0.49" fill="#2a2a2a"/>
<path d="M203.00 437.50L203.00 450.00" stroke="#fff" stroke-width="0.7"/>
<path d="M207.50 437.50L207.50 450.00" stroke="#fff" stroke-width="0.7"/>
<path d="M212.00 437.50L212.00 450.00" stroke="#fff" stroke-width="0.7"/>
<path d="M216.50 437.50L216.50 450.00" stroke="#fff" stroke-width="0.7"/>
<path d="M221.00 437.50L221.00 450.00" stroke="#fff" stroke-width="0.7"/>
<path d="M199.00 442.30L214.00 442.30" stroke="#fff" stroke-width="0.6"/>
<path d="M204.00 447.00L227.00 447.00" stroke="#fff" stroke-width="0.5"/>
<rect x="200.00" y="450.50" width="11.00" height="2.50" rx="0" stroke="#111" stroke-width="0.49" fill="#333"/>
<rect x="182.50" y="453.75" width="35.00" height="31.25" rx="0" stroke="#111" stroke-width="1.34" fill="none"/>
<path d="M182.50 458.75L217.50 458.75" stroke="#111" stroke-width="1.1"/>
<path d="M201.25 455.00L201.25 483.75" stroke="#111" stroke-width="1.1"/>
<path d="M203.75 455.00L203.75 483.75" stroke="#111" stroke-width="1.1"/>
<path d="M208.10 455.00L208.10 483.75" stroke="#111" stroke-width="1.1"/>
<path d="M211.90 455.00L211.90 483.75" stroke="#111" stroke-width="1.1"/>
<path d="M215.00 455.00L215.00 483.75" stroke="#111" stroke-width="1.1"/>
<rect x="200.60" y="481.90" width="15.65" height="2.50" rx="0" stroke="#111" stroke-width="0.98" fill="none"/>
<path d="M169.50 485.00L169.50 641.50" stroke="#111" stroke-width="1.59"/>
<path d="M182.50 485.00L182.50 641.50" stroke="#111" stroke-width="1.34"/>
<path d="M169.50 486.40L182.50 486.40" stroke="#111" stroke-width="1.1"/>
<path d="M169.50 499.20L642.60 499.25" stroke="#111" stroke-width="1.22"/>
<path d="M642.60 485.40L642.60 641.50" stroke="#111" stroke-width="1.34"/>
<path d="M644.75 486.40L644.75 641.50" stroke="#111" stroke-width="1.1"/>
<path d="M654.65 486.40L654.65 641.50" stroke="#111" stroke-width="1.1"/>
<path d="M656.60 485.40L656.60 641.50" stroke="#111" stroke-width="1.71"/>
<path d="M642.60 486.40L656.60 486.40" stroke="#111" stroke-width="1.1"/>
<path d="M642.60 498.80L656.60 498.80" stroke="#111" stroke-width="1.1"/>
<path d="M654.65 510 H647.9 V516.5" stroke="#111" stroke-width="1.95" fill="none" />
<path d="M647.9 610.8 V617.9 H654.65" stroke="#111" stroke-width="1.95" fill="none" />
<path d="M487.70 499.20L487.70 627.00" stroke="#111" stroke-width="1.22"/>
<path d="M169.50 627.30L656.60 627.00" stroke="#111" stroke-width="1.46"/>
<path d="M182.50 629.30L293.00 629.20" stroke="#111" stroke-width="1.1"/>
<path d="M335.50 629.30L488.00 629.20" stroke="#111" stroke-width="1.1"/>
<path d="M546.50 629.30L642.60 629.20" stroke="#111" stroke-width="1.1"/>
<path d="M287.00 639.60L488.00 639.50" stroke="#111" stroke-width="1.1"/>
<path d="M540.00 639.60L642.60 639.50" stroke="#111" stroke-width="1.1"/>
<path d="M169.50 641.30L287.00 641.20" stroke="#111" stroke-width="1.46"/>
<path d="M335.00 641.30L488.00 641.20" stroke="#111" stroke-width="1.46"/>
<path d="M504.00 641.30L656.60 641.20" stroke="#111" stroke-width="1.46"/>
<rect x="488.75" y="628.75" width="13.50" height="12.00" rx="0" stroke="#111" stroke-width="1.1" fill="none"/>
<path d="M490.00 628.75L490.00 640.75" stroke="#111" stroke-width="0.73"/>
<path d="M501.00 628.75L501.00 640.75" stroke="#111" stroke-width="0.73"/>
<rect x="173.50" y="634.50" width="5.50" height="6.50" rx="1.5" stroke="#111" stroke-width="1.22" fill="none"/>
<rect x="174.85" y="636.00" width="2.70" height="5.00" rx="0" stroke="#111" stroke-width="0.85" fill="none"/>
<rect x="171.00" y="642.00" width="21.50" height="2.60" rx="0" stroke="#111" stroke-width="0.73" fill="#1a1a1a"/>
<path d="M173.50 646.00L190.75 646.00" stroke="#111" stroke-width="0.98"/>
<path d="M173.50 644.60L173.50 661.00" stroke="#111" stroke-width="1.46"/>
<path d="M176.50 644.60L176.50 661.00" stroke="#111" stroke-width="1.1"/>
<path d="M179.00 644.60L179.00 661.00" stroke="#111" stroke-width="1.1"/>
<path d="M182.00 644.60L182.00 661.00" stroke="#111" stroke-width="1.34"/>
<path d="M182.0 647.5 H187.25 Q188.5 647.5 188.5 649 V661" stroke="#111" stroke-width="1.34" fill="none" />
<path d="M182.0 646.3 H189.25 Q191.0 646.3 191.0 648.5 V661" stroke="#111" stroke-width="1.34" fill="none" />
<ellipse cx="175.5" cy="662" rx="3.9" ry="1.9" fill="#111"/>
<ellipse cx="189.65" cy="662" rx="3.3" ry="1.8" fill="#111"/>
<path d="M192.25 660.3 L194.25 661.2 L192.25 663.5 Z" stroke="#111" stroke-width="0.61" fill="#111" />
<path d="M179.75 662.00L185.75 662.00" stroke="#333" stroke-width="0.98"/>
<circle cx="183.25" cy="662.00" r="0.90" stroke="#111" stroke-width="0.61" fill="#333"/>
<path d="M175.50 663.00L175.50 679.30" stroke="#111" stroke-width="1.22"/>
<path d="M177.50 663.00L177.50 679.30" stroke="#111" stroke-width="1.22"/>
<path d="M173.5 664 V666 L171.5 670 L168.5 673 L166.5 678.2" stroke="#111" stroke-width="1.34" fill="none" />
<path d="M173.5 666 H180.0 V668 L183.0 670 L185.5 677.5" stroke="#111" stroke-width="1.34" fill="none" />
<rect x="178.50" y="670.00" width="4.50" height="5.00" rx="0" stroke="#111" stroke-width="1.1" fill="none"/>
<path d="M171.50 670.00L178.50 670.00" stroke="#111" stroke-width="0.98"/>
<path d="M180.00 664.00L180.00 668.00" stroke="#111" stroke-width="1.22"/>
<path d="M162.00 678.30L190.00 678.30" stroke="#111" stroke-width="1.59"/>
<rect x="647.50" y="634.50" width="5.50" height="6.50" rx="1.5" stroke="#111" stroke-width="1.22" fill="none"/>
<rect x="648.95" y="636.00" width="2.70" height="5.00" rx="0" stroke="#111" stroke-width="0.85" fill="none"/>
<rect x="634.00" y="642.00" width="21.50" height="2.60" rx="0" stroke="#111" stroke-width="0.73" fill="#1a1a1a"/>
<path d="M653.00 646.00L635.75 646.00" stroke="#111" stroke-width="0.98"/>
<path d="M653.00 644.60L653.00 661.00" stroke="#111" stroke-width="1.46"/>
<path d="M650.00 644.60L650.00 661.00" stroke="#111" stroke-width="1.1"/>
<path d="M647.50 644.60L647.50 661.00" stroke="#111" stroke-width="1.1"/>
<path d="M644.50 644.60L644.50 661.00" stroke="#111" stroke-width="1.34"/>
<path d="M644.5 647.5 H639.25 Q638.0 647.5 638.0 649 V661" stroke="#111" stroke-width="1.34" fill="none" />
<path d="M644.5 646.3 H637.25 Q635.5 646.3 635.5 648.5 V661" stroke="#111" stroke-width="1.34" fill="none" />
<ellipse cx="651.0" cy="662" rx="3.9" ry="1.9" fill="#111"/>
<ellipse cx="636.85" cy="662" rx="3.3" ry="1.8" fill="#111"/>
<path d="M634.25 660.3 L632.25 661.2 L634.25 663.5 Z" stroke="#111" stroke-width="0.61" fill="#111" />
<path d="M646.75 662.00L640.75 662.00" stroke="#333" stroke-width="0.98"/>
<circle cx="643.25" cy="662.00" r="0.90" stroke="#111" stroke-width="0.61" fill="#333"/>
<path d="M651.00 663.00L651.00 679.30" stroke="#111" stroke-width="1.22"/>
<path d="M649.00 663.00L649.00 679.30" stroke="#111" stroke-width="1.22"/>
<path d="M653.0 664 V666 L655.0 670 L658.0 673 L660.0 678.2" stroke="#111" stroke-width="1.34" fill="none" />
<path d="M653.0 666 H646.5 V668 L643.5 670 L641.0 677.5" stroke="#111" stroke-width="1.34" fill="none" />
<rect x="643.50" y="670.00" width="4.50" height="5.00" rx="0" stroke="#111" stroke-width="1.1" fill="none"/>
<path d="M655.00 670.00L648.00 670.00" stroke="#111" stroke-width="0.98"/>
<path d="M646.50 664.00L646.50 668.00" stroke="#111" stroke-width="1.22"/>
<path d="M664.50 678.30L636.50 678.30" stroke="#111" stroke-width="1.59"/>
<rect x="196.00" y="491.50" width="25.25" height="34.75" rx="0" stroke="#111" stroke-width="1.34" fill="none"/>
<rect x="190.60" y="504.40" width="35.00" height="3.20" rx="1.5" stroke="#111" stroke-width="1.34" fill="#fff"/>
<rect x="190.60" y="510.00" width="35.00" height="3.20" rx="1.5" stroke="#111" stroke-width="1.34" fill="#fff"/>
<path d="M205.00 485.00L205.00 528.00" stroke="#111" stroke-width="1.22"/>
<path d="M211.90 485.00L211.90 528.00" stroke="#111" stroke-width="1.22"/>
<rect x="207.10" y="492.50" width="2.80" height="31.00" rx="1.3" stroke="#111" stroke-width="1.1" fill="none"/>
<path d="M208.50 485.00L208.50 535.00" stroke="#333" stroke-width="0.73"/>
<path d="M198.75 528.1 H218.75 L228.1 530.6 V533.1 H189.4 V530.6 Z" stroke="#111" stroke-width="1.34" fill="none" />
<path d="M189.40 530.60L228.10 530.60" stroke="#111" stroke-width="0.98"/>
<rect x="186.25" y="533.75" width="43.15" height="32.50" rx="0" stroke="#111" stroke-width="1.46" fill="none"/>
<rect x="190.60" y="535.60" width="2.50" height="29.40" rx="0" stroke="#111" stroke-width="1.1" fill="#8a8a8a"/>
<rect x="198.75" y="535.60" width="3.75" height="29.40" rx="0" stroke="#111" stroke-width="1.1" fill="#8a8a8a"/>
<rect x="213.75" y="535.60" width="3.75" height="29.40" rx="0" stroke="#111" stroke-width="1.1" fill="#8a8a8a"/>
<rect x="223.10" y="535.60" width="3.80" height="29.40" rx="0" stroke="#111" stroke-width="1.1" fill="#8a8a8a"/>
<path d="M208.50 528.00L208.50 567.00" stroke="#111" stroke-width="0.98"/>
<path d="M205.50 535.00L205.50 566.00" stroke="#111" stroke-width="0.98"/>
<path d="M211.50 535.00L211.50 566.00" stroke="#111" stroke-width="0.98"/>
<path d="M177.50 546.90L238.75 546.90" stroke="#111" stroke-width="1.1"/>
<rect x="186.90" y="561.25" width="8.10" height="5.00" rx="0" stroke="#111" stroke-width="1.1" fill="none"/>
<rect x="220.60" y="561.25" width="8.15" height="5.00" rx="0" stroke="#111" stroke-width="1.1" fill="none"/>
<path d="M190.00 566.00L190.00 568.50" stroke="#111" stroke-width="1.1"/>
<path d="M208.50 566.00L208.50 568.50" stroke="#111" stroke-width="1.1"/>
<path d="M225.00 566.00L225.00 568.50" stroke="#111" stroke-width="1.1"/>
<path d="M169.60 566.00L249.00 566.00" stroke="#111" stroke-width="1.46"/>
<path d="M238.60 566.00L238.60 627.30" stroke="#111" stroke-width="1.22"/>
<path d="M248.8 627.3 V579.75 H309.8 V627.3" stroke="#111" stroke-width="1.34" fill="none" />
<path d="M248.80 581.30L309.80 581.30" stroke="#111" stroke-width="0.98"/>
<path d="M251.00 581.30L251.00 627.30" stroke="#111" stroke-width="0.98"/>
<path d="M259.90 581.30L259.90 627.30" stroke="#111" stroke-width="0.98"/>
<path d="M262.40 581.30L262.40 627.30" stroke="#111" stroke-width="0.98"/>
<path d="M295.00 581.30L295.00 627.30" stroke="#111" stroke-width="0.98"/>
<path d="M297.70 581.30L297.70 627.30" stroke="#111" stroke-width="0.98"/>
<path d="M308.75 581.30L308.75 627.30" stroke="#111" stroke-width="0.98"/>
<rect x="266.50" y="491.90" width="24.10" height="38.70" rx="0" stroke="#111" stroke-width="1.34" fill="none"/>
<rect x="260.60" y="505.60" width="36.90" height="4.40" rx="2" stroke="#111" stroke-width="1.34" fill="#fff"/>
<path d="M263.50 505.60L263.50 510.00" stroke="#111" stroke-width="0.98"/>
<path d="M294.50 505.60L294.50 510.00" stroke="#111" stroke-width="0.98"/>
<rect x="260.60" y="513.10" width="36.90" height="4.40" rx="2" stroke="#111" stroke-width="1.34" fill="#fff"/>
<path d="M263.50 513.10L263.50 517.50" stroke="#111" stroke-width="0.98"/>
<path d="M294.50 513.10L294.50 517.50" stroke="#111" stroke-width="0.98"/>
<path d="M273.50 491.90L273.50 535.00" stroke="#111" stroke-width="1.22"/>
<path d="M283.75 491.90L283.75 535.00" stroke="#111" stroke-width="1.22"/>
<path d="M278.50 480.00L278.50 580.00" stroke="#222" stroke-width="0.85"/>
<path d="M276.80 510.00L276.80 535.00" stroke="#111" stroke-width="0.98"/>
<path d="M280.30 510.00L280.30 535.00" stroke="#111" stroke-width="0.98"/>
<path d="M284.00 495.50L291.50 495.50" stroke="#111" stroke-width="0.85"/>
<path d="M284.00 497.30L291.50 497.30" stroke="#111" stroke-width="0.85"/>
<path d="M284.00 499.00L291.50 499.00" stroke="#111" stroke-width="0.85"/>
<path d="M284.00 523.00L291.50 523.00" stroke="#111" stroke-width="0.85"/>
<path d="M284.00 524.80L291.50 524.80" stroke="#111" stroke-width="0.85"/>
<path d="M284.00 526.50L291.50 526.50" stroke="#111" stroke-width="0.85"/>
<path d="M283.00 496.50L293.50 496.50" stroke="#111" stroke-width="1.1"/>
<path d="M283.00 525.20L293.50 525.20" stroke="#111" stroke-width="1.1"/>
<path d="M269 535 L271 533 H286 L288 535" stroke="#111" stroke-width="1.1" fill="none" />
<rect x="258.75" y="535.00" width="40.00" height="3.10" rx="0" stroke="#111" stroke-width="1.22" fill="none"/>
<rect x="255.00" y="538.10" width="47.50" height="2.10" rx="0" stroke="#111" stroke-width="1.1" fill="none"/>
<path d="M251.9 540.2 V577.5 H305 V540.2" stroke="#111" stroke-width="1.46" fill="none" />
<path d="M251.9 546.25 C248 546.5,246.9 549,246.9 552 V562 C246.9 565,248 567.3,251.9 567.5" stroke="#111" stroke-width="1.22" fill="none" />
<path d="M249.30 548.00L249.30 566.00" stroke="#111" stroke-width="0.98"/>
<path d="M257.50 540.20L257.50 577.50" stroke="#111" stroke-width="1.1"/>
<path d="M260.60 540.20L260.60 577.50" stroke="#111" stroke-width="1.1"/>
<path d="M270.00 540.20L270.00 577.50" stroke="#111" stroke-width="1.1"/>
<path d="M273.10 540.20L273.10 577.50" stroke="#111" stroke-width="1.1"/>
<path d="M276.25 540.20L276.25 577.50" stroke="#111" stroke-width="1.1"/>
<path d="M283.75 540.20L283.75 577.50" stroke="#111" stroke-width="1.1"/>
<path d="M286.90 540.20L286.90 577.50" stroke="#111" stroke-width="1.1"/>
<path d="M297.50 540.20L297.50 577.50" stroke="#111" stroke-width="1.1"/>
<path d="M301.25 540.20L301.25 577.50" stroke="#111" stroke-width="1.1"/>
<rect x="257.50" y="541.00" width="3.10" height="36.00" rx="0" stroke="#111" stroke-width="0.61" fill="#777"/>
<rect x="297.50" y="541.00" width="3.75" height="36.00" rx="0" stroke="#111" stroke-width="0.61" fill="#777"/>
<path d="M276.25 545.00L283.75 545.00" stroke="#111" stroke-width="1.1"/>
<path d="M244.00 556.50L330.00 556.50" stroke="#111" stroke-width="0.98"/>
<rect x="253.00" y="571.50" width="7.00" height="8.20" rx="0" stroke="#111" stroke-width="1.1" fill="none"/>
<rect x="297.00" y="571.50" width="7.00" height="8.20" rx="0" stroke="#111" stroke-width="1.1" fill="none"/>
<path d="M305 545.5 L307.5 547 V567.5 L305 569 M307.5 547 Q310 542.5 311.2 531 M307.5 567.5 Q310 572 311.2 582" stroke="#111" stroke-width="1.22" fill="none" />
<rect x="311.50" y="528.50" width="4.50" height="55.90" rx="0" stroke="#111" stroke-width="1.34" fill="none"/>
<path d="M313.50 530.00L313.50 583.00" stroke="#555" stroke-width="0.73"/>
<rect x="311.50" y="581.50" width="4.50" height="2.90" rx="0" stroke="#111" stroke-width="0.73" fill="#222"/>
<rect x="316.90" y="539.40" width="6.85" height="2.50" rx="0" stroke="#111" stroke-width="0.61" fill="#222"/>
<rect x="316.90" y="546.25" width="4.35" height="3.15" rx="0" stroke="#111" stroke-width="1.1" fill="none"/>
<rect x="317.50" y="563.00" width="3.75" height="3.25" rx="0" stroke="#111" stroke-width="1.1" fill="none"/>
<rect x="316.90" y="566.25" width="6.85" height="6.75" rx="0" stroke="#111" stroke-width="0.61" fill="#333"/>
<path d="M316.00 556.30L324.40 556.30" stroke="#111" stroke-width="0.85"/>
<path d="M316.00 541.90L316.00 566.00" stroke="#555" stroke-width="0.85"/>
<path d="M323.75 531.9 V526 Q323.75 524.4 325.3 524.4 H345.4 Q346.9 524.4 346.9 526 V531.9" stroke="#111" stroke-width="1.34" fill="none" />
<path d="M324.4 541.25 V531.9 H349.4 V541.25" stroke="#111" stroke-width="1.34" fill="none" />
<rect x="333.00" y="533.00" width="8.25" height="7.80" rx="0" stroke="#111" stroke-width="1.1" fill="none"/>
<circle cx="337.25" cy="536.90" r="2.30" stroke="#111" stroke-width="1.22" fill="none"/>
<circle cx="337.25" cy="536.90" r="0.90" stroke="#111" stroke-width="0.61" fill="#111"/>
<rect x="324.40" y="541.25" width="39.35" height="35.65" rx="0" stroke="#111" stroke-width="1.46" fill="none"/>
<path d="M349.40 535.50L363.75 535.50" stroke="#111" stroke-width="1.22"/>
<path d="M349.40 537.50L363.75 537.50" stroke="#111" stroke-width="2.44"/>
<path d="M349.40 541.25L349.40 535.50" stroke="#111" stroke-width="0.98"/>
<rect x="325" y="541.9" width="38.2" height="2.50" fill="#1e1e1e"/>
<rect x="325" y="546.9" width="38.2" height="3.10" fill="#1e1e1e"/>
<rect x="325" y="552.5" width="38.2" height="3.10" fill="#1e1e1e"/>
<rect x="325" y="558" width="38.2" height="3.30" fill="#1e1e1e"/>
<rect x="325" y="563.7" width="38.2" height="3.70" fill="#1e1e1e"/>
<rect x="325" y="568.8" width="38.2" height="2.50" fill="#1e1e1e"/>
<rect x="325" y="573.7" width="38.2" height="3.20" fill="#1e1e1e"/>
<rect x="325" y="555.9" width="38.2" height="1.8" fill="#888"/>
<rect x="325" y="567.4" width="38.2" height="1.4" fill="#777"/>
<path d="M364.4 532.5 H378 L386.25 537.5 V573.75 L378 578 H364.4 Z" stroke="#111" stroke-width="1.46" fill="none" />
<path d="M369.40 532.50L369.40 578.00" stroke="#111" stroke-width="1.22"/>
<path d="M378.00 532.50L378.00 578.00" stroke="#111" stroke-width="1.22"/>
<path d="M364.40 556.25L386.25 556.25" stroke="#111" stroke-width="1.1"/>
<path d="M369.40 571.50L378.00 571.50" stroke="#111" stroke-width="0.73"/>
<path d="M378 570 L386.25 566" stroke="#111" stroke-width="0.98" fill="none" />
<rect x="379.50" y="571.50" width="3.00" height="3.00" rx="0" stroke="#111" stroke-width="0.61" fill="#444"/>
<rect x="364.40" y="578.00" width="5.00" height="2.00" rx="0" stroke="#111" stroke-width="0.85" fill="#222"/>
<path d="M508 118.4 C 490 127, 470 133, 450.4 134" stroke="#111" stroke-width="1.52" fill="none" />
<path d="M374.5 134 C 380 143, 385 152, 385 160 C 385 170, 377 180, 375.5 189 C 374.5 197, 381 203, 388.6 204.5" stroke="#111" stroke-width="1.52" fill="none" />
<path d="M335.5 141.5 C 352 160, 354 200, 352 230 C 351 262, 368 278, 379.4 286.2" stroke="#111" stroke-width="1.52" fill="none" />
<path d="M498.3 213 C 490 221, 487 232, 484 245 C 481 258, 477 265, 467 266.3 C 455 267.5, 443 263.5, 427.4 260.2" stroke="#111" stroke-width="1.52" fill="none" />
<path d="M138 359.6 C 165 373, 200 383, 231 385" stroke="#111" stroke-width="1.52" fill="none" />
<path d="M154.2 599 C 166 594, 178 592, 176 582.5 C 174 572, 163 570, 165.8 562.2 C 169 554, 185 554, 196.2 553.7" stroke="#111" stroke-width="1.52" fill="none" />
<path d="M320.2 677.2 C 305 650, 295 610, 291.4 569.6" stroke="#111" stroke-width="1.1" fill="none" />
<path d="M381.1 676.9 C 366 650, 356 610, 353.1 570.5" stroke="#111" stroke-width="1.1" fill="none" />
<path d="M526.7 678.2 C 519 664, 515 648, 514.5 632.5" stroke="#111" stroke-width="1.1" fill="none" />
</svg>
</body></html>
